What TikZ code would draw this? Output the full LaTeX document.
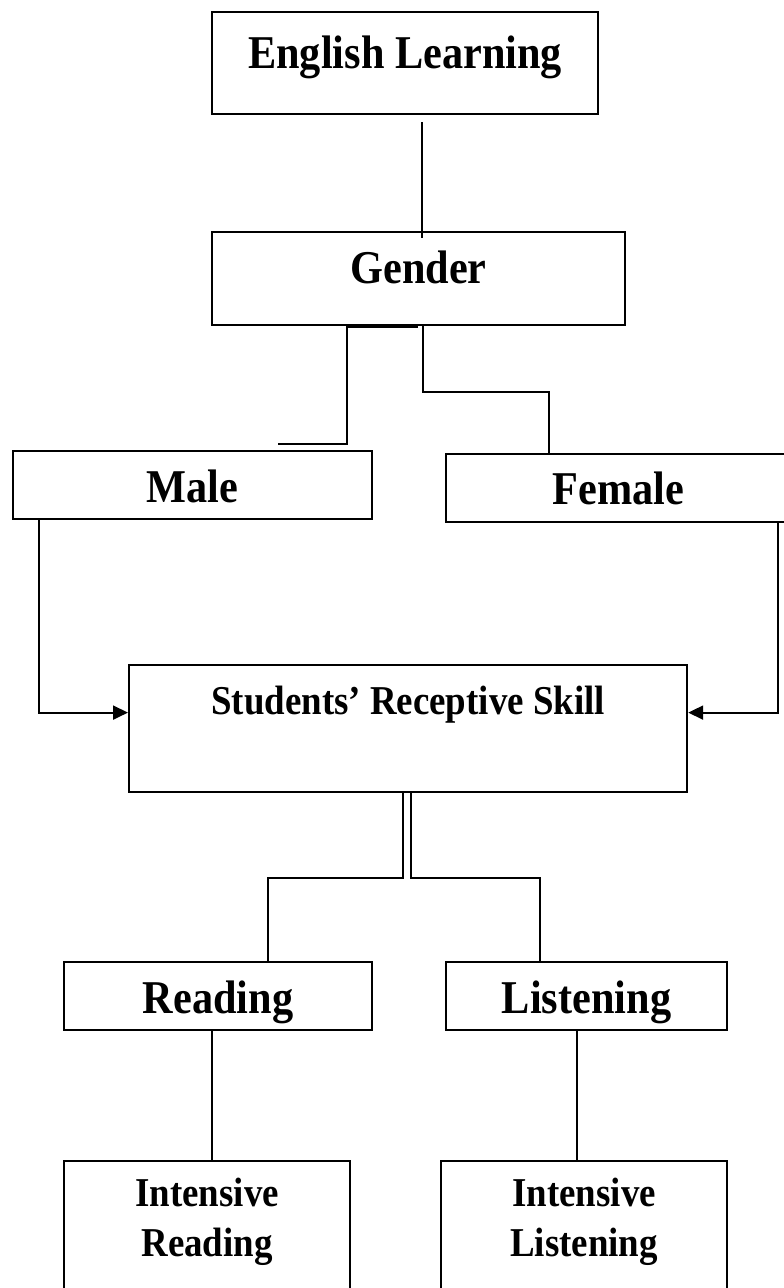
\documentclass[tikz,border=0pt]{standalone}
\usepackage{fontspec}
\setmainfont{Liberation Serif}[FakeStretch=0.9]
\usepackage{tikz}
\usetikzlibrary{positioning,arrows.meta}

\tikzset{
  box/.style={draw, line width=2.2pt, inner sep=0pt, anchor=north west, align=center,
    font=\bfseries\fontsize{47}{50}\selectfont},
  smallbox/.style={box, font=\bfseries\fontsize{41}{50}\selectfont},
  link/.style={line width=1.9pt},
  feed/.style={link, -{Triangle[length=15pt,width=14pt]}}
}

\begin{document}
\begin{tikzpicture}[x=1pt,y=-1pt]
  \useasboundingbox (0,0) rectangle (784,1288);

  % --- Top of the tree ---
  \node[box, minimum width=386pt, text height=56pt, text depth=46pt] (english) at (211,11) {English Learning};
  \node[box, minimum width=413pt, text height=51pt, text depth=42pt] (gender) at (211,231) {Gender};

  % --- Gender split ---
  \node[box, minimum width=359pt, text height=51pt, text depth=17pt] (male) at (12,450) {Male};
  \node[box, minimum width=345pt, text height=50pt, text depth=18pt] (female) at (445,453) {Female};

  % --- Receptive skill ---
  \node[smallbox, minimum width=558pt, text height=49pt, text depth=78pt] (skill) at (128,664) {Students’ Receptive Skill};

  % --- Skills ---
  \node[box, minimum width=308pt, text height=51pt, text depth=17pt] (reading) at (63,961) {Reading};
  \node[box, minimum width=281pt, text height=51pt, text depth=17pt] (listening) at (445,961) {Listening};

  % --- Intensive (cut at the page edge) ---
  \node[smallbox, minimum width=286pt, text height=95pt, text depth=150pt] (intread) at (63,1160) {Intensive\\Reading};
  \node[smallbox, minimum width=286pt, text height=95pt, text depth=150pt] (intlisten) at (440,1160) {Intensive\\Listening};

  % Connectors
  \draw[link] ([xshift=17pt,yshift=-7pt]english.south) -- ([xshift=17pt,yshift=-7pt]english.south |- gender.north);
  \draw[link] ([xshift=-1pt,yshift=-1pt]gender.south) -- ++(-71,0) -- ++(0,117) -- ++(-69,0) coordinate (maleend);
  \draw[link] ([xshift=4pt]gender.south) -- ++(0,66) -| ([xshift=104pt]female.north west);
  \draw[feed] ([xshift=27pt]male.south west) |- ([yshift=16pt]skill.west);
  \draw[feed] ([xshift=333pt]female.south west) |- ([yshift=16pt]skill.east);
  \draw[link] ([xshift=-5pt]skill.south) -- ++(0,85) -| ([xshift=50pt]reading.north);
  \draw[link] ([xshift=3pt]skill.south) -- ++(0,85) -| ([xshift=-47pt]listening.north);
  \draw[link] ([xshift=-6pt]reading.south) -- ([xshift=-6pt]reading.south |- intread.north);
  \draw[link] ([xshift=-10pt]listening.south) -- ([xshift=-10pt]listening.south |- intlisten.north);
\end{tikzpicture}
\end{document}
